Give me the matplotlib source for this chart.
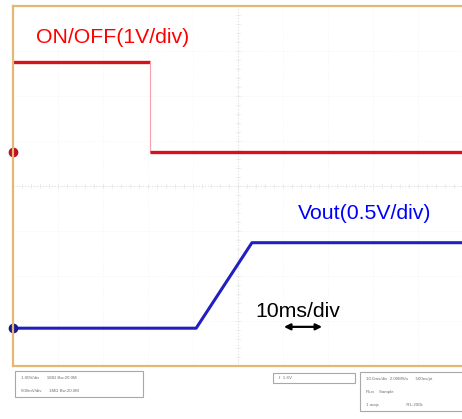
import matplotlib.pyplot as plt
import numpy as np
from matplotlib.patches import Rectangle, FancyArrowPatch

# time in ms (10 ms/div, screen spans -50..50 ms)
t_onoff = [-50, -19.6, -19.6, 50]
v_onoff = [2.0, 2.0, 0.0, 0.0]
t_vout = [-50, -9.3, 3.1, 50]
v_vout = [0.0, 0.0, 0.95, 0.95]

onoff_scale, onoff_offset = 1.0, 0.76   # V/div, ground position (div)
vout_scale, vout_offset = 0.5, -3.16

left_box = ["1.00V/div      1M\u03a9 Bw:20.0M", "500mV/div      1M\u03a9 Bw:20.0M"]
mid_box = "f  1.6V"
right_box = ["10.0ms/div  2.00MS/s      500ns/pt", "Run    Sample", "1 acqs                      RL:200k"]

plt.rcParams['font.family'] = ['Liberation Sans', 'DejaVu Sans']

fig = plt.figure(figsize=(4.62, 4.19), dpi=100)
ax = fig.add_axes([13 / 462, 1 - 366 / 419, 450 / 462, 360 / 419])
ax.set_xlim(-50, 50)
ax.set_ylim(-4, 4)

# faint graticule
for xd in np.arange(-40, 50, 10):
    ax.axvline(xd, color='#f3f3f3', lw=0.6, ls=':', zorder=0)
for yd in np.arange(-3, 4, 1):
    ax.axhline(yd, color='#f3f3f3', lw=0.6, ls=':', zorder=0)
ax.axvline(0, color='#e0e0e0', lw=0.8, ls=':', zorder=0)
ax.axhline(0, color='#e0e0e0', lw=0.8, ls=':', zorder=0)
for xm in np.arange(-50, 50, 2):
    ax.plot([xm, xm], [-0.04, 0.04], color='#e6e6e6', lw=0.5, zorder=0)
for ym in np.arange(-4, 4, 0.2):
    ax.plot([-0.4, 0.4], [ym, ym], color='#e6e6e6', lw=0.5, zorder=0)

y_on = np.array(v_onoff) / onoff_scale + onoff_offset
y_out = np.array(v_vout) / vout_scale + vout_offset
ax.plot(t_onoff[:2], y_on[:2], color='#d8101c', lw=2.4, solid_capstyle='butt')
ax.plot(t_onoff[1:3], y_on[1:3], color='#f4a0a8', lw=0.8)
ax.plot(t_onoff[2:], y_on[2:], color='#d8101c', lw=2.4, solid_capstyle='butt')
ax.plot(t_vout, y_out, color='#2020c0', lw=2.2)

# ground markers
ax.plot(-50, onoff_offset, marker='o', ms=6, color='#c01020', clip_on=False)
ax.plot(-50, vout_offset, marker='o', ms=6, color='#1a1a90', clip_on=False)

ax.text(-44.9, 3.29, "ON/OFF(1V/div)", color='#ff0000', fontsize=15.3,
        va='center', ha='left')
ax.text(13.3, -0.6, "Vout(0.5V/div)", color='#0000ff', fontsize=15.3,
        va='center', ha='left')
ax.text(3.8, -2.78, "10ms/div", color='black', fontsize=15.3, va='center', ha='left')
ax.add_patch(FancyArrowPatch((9.6, -3.13), (19.3, -3.13), arrowstyle='<|-|>',
                             mutation_scale=9, color='black', lw=1.6))

ax.set_xticks([])
ax.set_yticks([])
for s in ax.spines.values():
    s.set_color('#e2b874')
    s.set_linewidth(1.6)

# status boxes below the screen
def box(x0, y0, w, h, lines, fs=3.2):
    fig.patches.append(Rectangle((x0 / 462, 1 - (y0 + h) / 419), w / 462, h / 419,
                                 transform=fig.transFigure, fc='white', ec='#a8a8a8', lw=0.8))
    n = len(lines)
    for i, s in enumerate(lines):
        fig.text((x0 + 6) / 462, 1 - (y0 + h * (i + 0.5) / n) / 419, s,
                 fontsize=fs, color='#707070', va='center', ha='left')

box(15, 371, 128, 26, left_box)
box(273, 373, 82, 10, [mid_box])
box(360, 372, 104, 39, right_box)

fig.savefig('out.png', dpi=100)
